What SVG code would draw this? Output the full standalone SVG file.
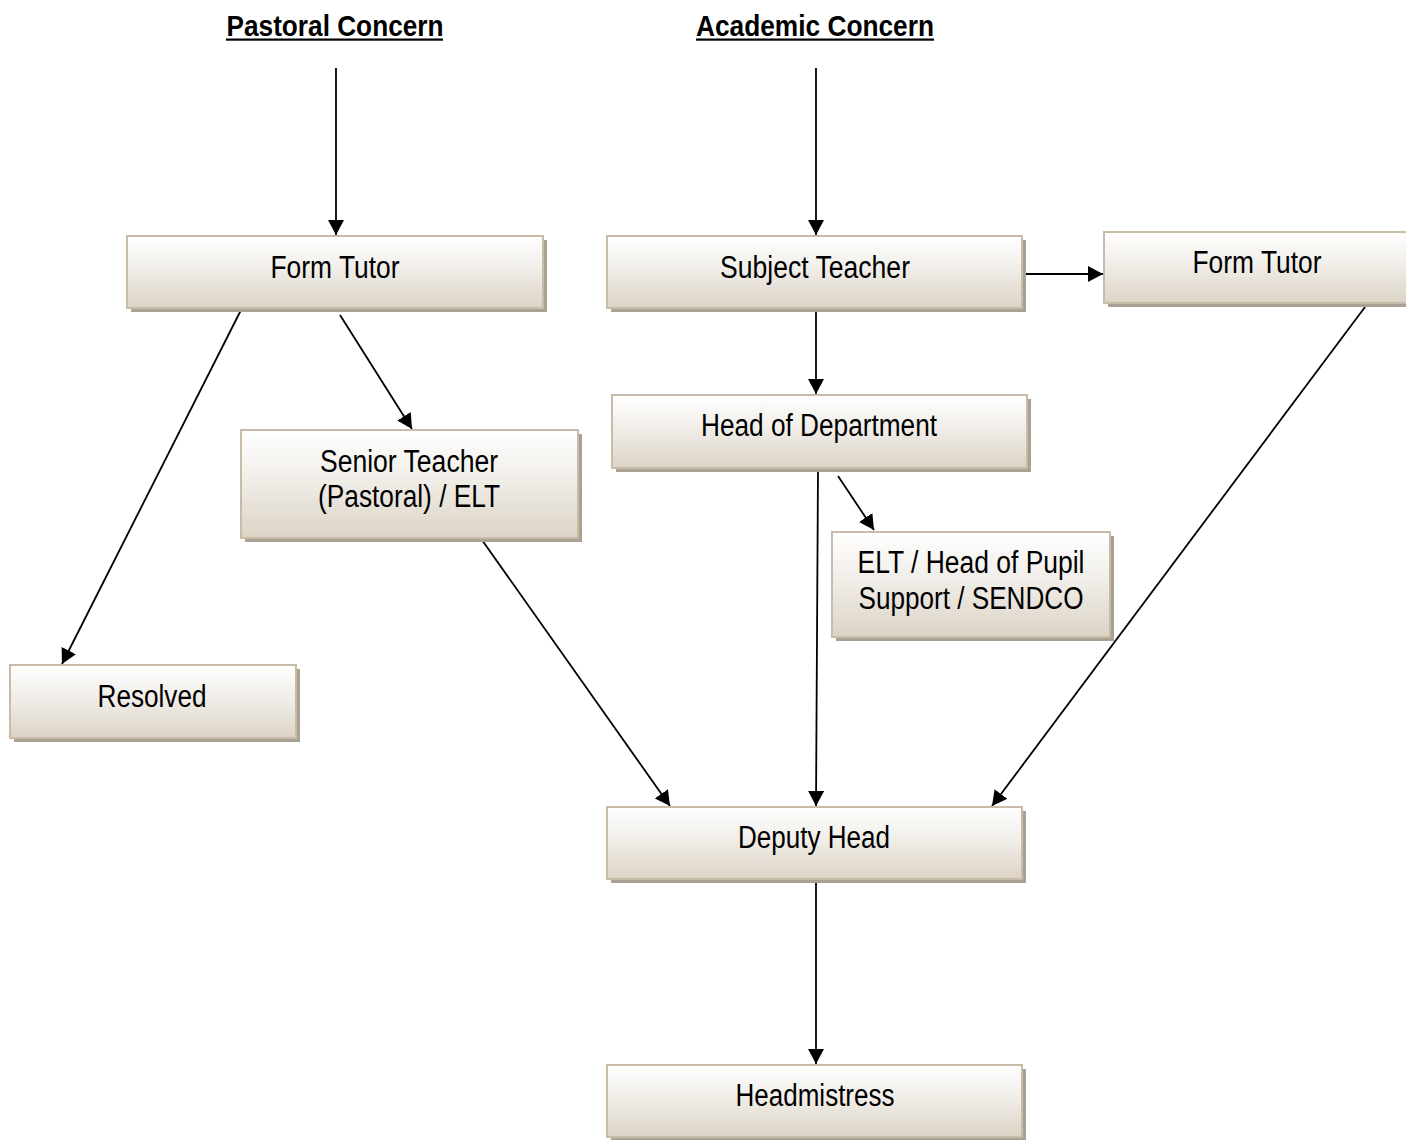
<svg xmlns="http://www.w3.org/2000/svg" width="1406" height="1140" viewBox="0 0 1406 1140">
<defs>
<linearGradient id="g" x1="0" y1="0" x2="0" y2="1">
<stop offset="0" stop-color="#ffffff"/>
<stop offset="0.45" stop-color="#f1eee9"/>
<stop offset="1" stop-color="#dbd3c5"/>
</linearGradient>
<marker id="arr" viewBox="0 0 15 16" refX="15" refY="8" markerWidth="15" markerHeight="16" markerUnits="userSpaceOnUse" orient="auto">
<path d="M0,0 L15,8 L0,16 Z" fill="#000"/>
</marker>
</defs>
<style>
.shadow{fill:#a9a293}
.box{fill:url(#g);stroke:#c8bca8;stroke-width:2}
.t{font-family:"Liberation Sans",Arial,sans-serif;font-size:31px;fill:#000;text-anchor:middle}
.h{font-family:"Liberation Sans",Arial,sans-serif;font-size:30px;font-weight:bold;fill:#000;text-anchor:middle}
.c{stroke:#000;stroke-width:1.8;fill:none;marker-end:url(#arr)}
</style>
<rect width="1406" height="1140" fill="#fff"/>

<g id="headings">
<text class="h" x="335" y="36" textLength="217" lengthAdjust="spacingAndGlyphs">Pastoral Concern</text>
<rect x="226" y="38.5" width="217" height="2.2" fill="#000"/>
<text class="h" x="815" y="36" textLength="238" lengthAdjust="spacingAndGlyphs">Academic Concern</text>
<rect x="696" y="38.5" width="238" height="2.2" fill="#000"/>
</g>

<g id="connectors">
<line class="c" x1="336" y1="68" x2="336" y2="235"/>
<line class="c" x1="816" y1="68" x2="816" y2="235"/>
<line class="c" x1="241" y1="310" x2="62" y2="664"/>
<line class="c" x1="340" y1="315" x2="412" y2="429"/>
<line class="c" x1="1023" y1="274" x2="1103" y2="274"/>
<line class="c" x1="816" y1="310" x2="816" y2="394"/>
<line class="c" x1="838" y1="476" x2="874" y2="530"/>
<line class="c" x1="818" y1="470" x2="816" y2="806"/>
<line class="c" x1="482" y1="540" x2="670" y2="806"/>
<line class="c" x1="1365" y1="307" x2="992" y2="806"/>
<line class="c" x1="816" y1="880" x2="816" y2="1064"/>
</g>

<g id="form-tutor-pastoral">
<rect class="shadow" x="131" y="240" width="416" height="72"/>
<rect class="box" x="127" y="236" width="416" height="72"/>
<text class="t" x="335" y="278" textLength="129" lengthAdjust="spacingAndGlyphs">Form Tutor</text>
</g>

<g id="subject-teacher">
<rect class="shadow" x="611" y="240" width="415" height="72"/>
<rect class="box" x="607" y="236" width="415" height="72"/>
<text class="t" x="815" y="278" textLength="190" lengthAdjust="spacingAndGlyphs">Subject Teacher</text>
</g>

<g id="form-tutor-academic">
<rect class="shadow" x="1108" y="236" width="310" height="71"/>
<rect class="box" x="1104" y="232" width="310" height="71"/>
<text class="t" x="1257" y="273" textLength="129" lengthAdjust="spacingAndGlyphs">Form Tutor</text>
</g>

<g id="head-of-department">
<rect class="shadow" x="616" y="399" width="415" height="73"/>
<rect class="box" x="612" y="395" width="415" height="73"/>
<text class="t" x="819" y="436" textLength="236" lengthAdjust="spacingAndGlyphs">Head of Department</text>
</g>

<g id="senior-teacher">
<rect class="shadow" x="245" y="434" width="337" height="108"/>
<rect class="box" x="241" y="430" width="337" height="108"/>
<text class="t" x="409" y="472" textLength="178" lengthAdjust="spacingAndGlyphs">Senior Teacher</text>
<text class="t" x="409" y="507" textLength="182" lengthAdjust="spacingAndGlyphs">(Pastoral) / ELT</text>
</g>

<g id="elt-pupil-support">
<rect class="shadow" x="836" y="536" width="278" height="105"/>
<rect class="box" x="832" y="532" width="278" height="105"/>
<text class="t" x="971" y="573" textLength="227" lengthAdjust="spacingAndGlyphs">ELT / Head of Pupil</text>
<text class="t" x="971" y="609" textLength="225" lengthAdjust="spacingAndGlyphs">Support / SENDCO</text>
</g>

<g id="resolved">
<rect class="shadow" x="14" y="669" width="286" height="73"/>
<rect class="box" x="10" y="665" width="286" height="73"/>
<text class="t" x="152" y="707" textLength="109" lengthAdjust="spacingAndGlyphs">Resolved</text>
</g>

<g id="deputy-head">
<rect class="shadow" x="611" y="811" width="415" height="72"/>
<rect class="box" x="607" y="807" width="415" height="72"/>
<text class="t" x="814" y="848" textLength="152" lengthAdjust="spacingAndGlyphs">Deputy Head</text>
</g>

<g id="headmistress">
<rect class="shadow" x="611" y="1069" width="415" height="72"/>
<rect class="box" x="607" y="1065" width="415" height="72"/>
<text class="t" x="815" y="1106" textLength="159" lengthAdjust="spacingAndGlyphs">Headmistress</text>
</g>
</svg>
